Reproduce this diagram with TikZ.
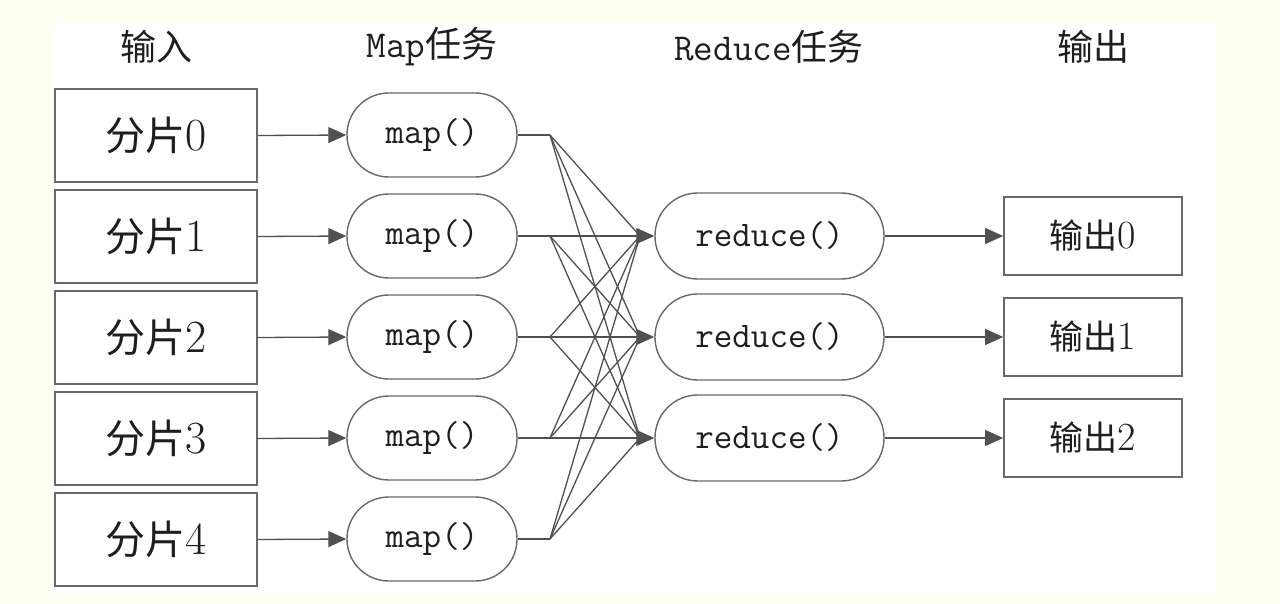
\documentclass[tikz,border=0pt]{standalone}
\usepackage{fontspec}
\newfontfamily\cjk{Noto Sans CJK SC}
\usetikzlibrary{arrows.meta}
\definecolor{bgcream}{RGB}{255,255,242}
\definecolor{edgegray}{RGB}{80,80,80}
\definecolor{boxgray}{RGB}{105,105,105}
\definecolor{txt}{RGB}{30,30,30}
\newcommand{\dg}[1]{{\fontsize{23}{24}\selectfont #1}}
\newcommand{\dgs}[1]{{\fontsize{20}{24}\selectfont #1}}
\tikzset{
  inbox/.style={draw=boxgray, line width=0.8pt, minimum width=101pt, minimum height=46.5pt, inner sep=0pt, font=\fontsize{20}{24}\selectfont, text=txt},
  outbox/.style={draw=boxgray, line width=0.8pt, minimum width=89pt, minimum height=39pt, inner sep=0pt, font=\fontsize{17}{20}\selectfont, text=txt},
  mapbox/.style={draw=boxgray, line width=0.7pt, rounded corners=20.9pt, minimum width=85pt, minimum height=42pt, inner sep=0pt, font=\ttfamily\fontsize{18}{20}\selectfont, text=txt},
  redbox/.style={draw=boxgray, line width=0.7pt, rounded corners=21.4pt, minimum width=114.5pt, minimum height=43pt, inner sep=0pt, font=\ttfamily\fontsize{18}{20}\selectfont, text=txt},
  header/.style={font=\fontsize{18}{22}\selectfont, text=txt, inner sep=0pt},
  conn/.style={draw=edgegray, line width=0.65pt},
  arr/.style={conn, -{Triangle[length=9pt,width=8pt]}},
}
\begin{document}
\begin{tikzpicture}[x=0.5pt,y=-0.5pt]
\useasboundingbox (0,0) rectangle (1280,604);
\fill[bgcream] (0,0) rectangle (1280,604);
\fill[white] (52,23) rectangle (1216,597);
% headers
\node[header] (h1) at (156,47) {\cjk 输入};
\node[header] (h2) at (432,47) {{\ttfamily\fontsize{19}{22}\selectfont Map}{\cjk 任务}};
\node[header] (h3) at (769,47) {{\ttfamily\fontsize{19}{22}\selectfont Reduce}{\cjk 任务}};
\node[header] (h4) at (1093,47) {\cjk 输出};
% nodes
\foreach \i in {0,...,4}{
  \node[inbox] (in\i) at (156,{135.5+101*\i}) {{\cjk 分片}\dg{\i}};
  \node[mapbox] (map\i) at (432,{135+101*\i}) {map()};
  \coordinate (j\i) at (550,{135+101*\i});
}
\foreach \k in {0,1,2}{
  \node[redbox] (red\k) at (769.5,{236+101*\k}) {reduce()};
  \node[outbox] (out\k) at (1093,{236+101*\k}) {{\cjk 输出}\dgs{\k}};
  \coordinate (c\k) at (640,{236+101*\k});
}
% connectors
\foreach \i in {0,...,4}{
  \draw[arr] (in\i.east) -- (map\i.west);
  \draw[conn] (map\i.east) -- (j\i);
  \foreach \k in {0,1,2}{
    \draw[conn] (j\i) -- (c\k);
  }
}
\foreach \k in {0,1,2}{
  \draw[arr] (c\k) -- (red\k.west);
  \draw[arr] (red\k.east) -- (out\k.west);
}
\end{tikzpicture}
\end{document}
